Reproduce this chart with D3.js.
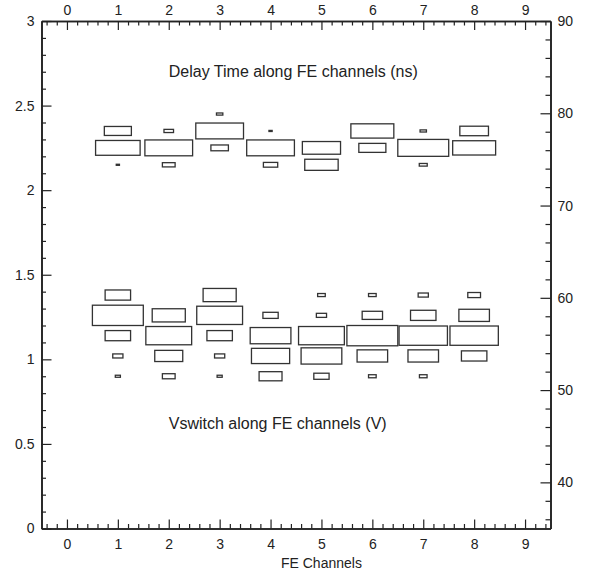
<!DOCTYPE html>
<html>
<head>
<meta charset="utf-8">
<script src="https://cdn.jsdelivr.net/npm/d3@7"></script>
<style>
  body { margin: 0; background: #fff; }
  text { font-family: "Liberation Sans", Arial, sans-serif; fill: #222; }
</style>
</head>
<body>
<div id="chart"></div>
<script>
// FE channels on x
const channels = [1, 2, 3, 4, 5, 6, 7, 8];

// Delay time histogram: bin centres (left axis units, bin width 0.1)
const delayBins = [2.15, 2.25, 2.35, 2.45];
const delayBinWidth = 0.1;
// entries per channel, one row per channel, in the order of delayBins
const delayCounts = [
  [2, 28, 17, 0],
  [8, 30, 6, 0],
  [0, 11, 30, 4],
  [9, 30, 2, 0],
  [21, 24, 0, 0],
  [0, 17, 27, 0],
  [5, 32, 4, 0],
  [0, 27, 18, 0]
];

// Vswitch histogram: bin centres (V, bin width 0.12)
const vswBins = [0.90, 1.02, 1.14, 1.26, 1.38];
const vswBinWidth = 0.12;
const vswCounts = [
  [2, 4, 10, 20, 10],
  [5, 11, 18, 13, 0],
  [2, 4, 10, 18, 13],
  [9, 15, 16, 6, 0],
  [6, 16, 18, 4, 3],
  [3, 12, 20, 8, 3],
  [3, 12, 19, 10, 4],
  [0, 10, 19, 12, 5]
];

const xTicks = [0, 1, 2, 3, 4, 5, 6, 7, 8, 9];
const yLeftTicks = [0, 0.5, 1, 1.5, 2, 2.5, 3];
const yRightTicks = [40, 50, 60, 70, 80, 90];

const margin = { top: 21, right: 39.5, bottom: 44.5, left: 41.5 },
  width = 590 - margin.left - margin.right,
  height = 573 - margin.top - margin.bottom;

const svg = d3.select("#chart")
  .append("svg")
  .attr("width", 590)
  .attr("height", 573)
  .append("g")
  .attr("transform", `translate(${margin.left},${margin.top})`);

const x = d3.scaleLinear().domain([-0.5, 9.5]).range([0, width]);
const y = d3.scaleLinear().domain([0, 3]).range([height, 0]);
const yR = d3.scaleLinear().domain([35, 90]).range([height, 0]);

// minor tick positions
const xMinor = d3.range(-2, 48).map(i => i * 0.2).filter(v => Math.abs(v - Math.round(v)) > 1e-6);
const yMinor = d3.range(1, 30).map(i => i / 10).filter(v => Math.abs(v * 2 - Math.round(v * 2)) > 1e-6);
const yRMinor = d3.range(36, 90, 2).filter(v => v % 10 !== 0);

function styleAxis(g) {
  g.select(".domain").attr("stroke", "#222").attr("stroke-width", 1.6);
  g.selectAll(".tick line").attr("stroke", "#222").attr("stroke-width", 1.2);
  g.selectAll(".tick text").style("font-size", "14px").attr("fill", "#222");
}

// bottom
svg.append("g").attr("transform", `translate(0,${height})`)
  .call(d3.axisBottom(x).tickValues(xMinor).tickSize(-4.5).tickSizeOuter(0).tickFormat(""))
  .call(styleAxis);
svg.append("g").attr("transform", `translate(0,${height})`)
  .call(d3.axisBottom(x).tickValues(xTicks).tickSize(-9).tickSizeOuter(0).tickPadding(11).tickFormat(d3.format("d")))
  .call(styleAxis);

// top
svg.append("g")
  .call(d3.axisTop(x).tickValues(xMinor).tickSize(-4.5).tickSizeOuter(0).tickFormat(""))
  .call(styleAxis);
svg.append("g")
  .call(d3.axisTop(x).tickValues(xTicks).tickSize(-9).tickSizeOuter(0).tickPadding(6).tickFormat(d3.format("d")))
  .call(styleAxis);

// left
svg.append("g")
  .call(d3.axisLeft(y).tickValues(yMinor).tickSize(-4.5).tickSizeOuter(0).tickFormat(""))
  .call(styleAxis);
svg.append("g")
  .call(d3.axisLeft(y).tickValues(yLeftTicks).tickSize(-10).tickSizeOuter(0).tickPadding(7).tickFormat(d3.format("")))
  .call(styleAxis);

// right (delay time in ns)
svg.append("g").attr("transform", `translate(${width},0)`)
  .call(d3.axisRight(yR).tickValues(yRMinor).tickSize(-5).tickSizeOuter(0).tickFormat(""))
  .call(styleAxis);
svg.append("g").attr("transform", `translate(${width},0)`)
  .call(d3.axisRight(yR).tickValues(yRightTicks).tickSize(-10).tickSizeOuter(0).tickPadding(7).tickFormat(d3.format("d")))
  .call(styleAxis);

// box histograms
const drawBoxes = function (counts, bins, binWidth) {
  const zmax = d3.max(counts, row => d3.max(row));
  const cells = [];
  counts.forEach((row, i) => {
    row.forEach((c, j) => {
      if (c > 0) cells.push({ ch: channels[i], yc: bins[j], r: c / zmax });
    });
  });
  svg.append("g")
    .selectAll("rect")
    .data(cells)
    .join("rect")
    .attr("x", d => x(d.ch) - (x(d.ch + 0.5) - x(d.ch - 0.5)) * d.r / 2)
    .attr("y", d => y(d.yc) - (y(d.yc - binWidth / 2) - y(d.yc + binWidth / 2)) * d.r / 2)
    .attr("width", d => (x(d.ch + 0.5) - x(d.ch - 0.5)) * d.r)
    .attr("height", d => (y(d.yc - binWidth / 2) - y(d.yc + binWidth / 2)) * d.r)
    .attr("fill", "none")
    .attr("stroke", "#333")
    .attr("stroke-width", 1.3);
}

drawBoxes(delayCounts, delayBins, delayBinWidth);
drawBoxes(vswCounts, vswBins, vswBinWidth);

// labels
svg.append("text")
  .attr("x", x(2))
  .attr("y", y(2.7))
  .attr("dy", "0.35em")
  .style("font-size", "16px")
  .text("Delay Time along FE channels (ns)");

svg.append("text")
  .attr("x", x(2))
  .attr("y", y(0.62))
  .attr("dy", "0.35em")
  .style("font-size", "16px")
  .text("Vswitch along FE channels (V)");

svg.append("text")
  .attr("x", x(5))
  .attr("y", height + 39)
  .attr("text-anchor", "middle")
  .style("font-size", "14px")
  .text("FE Channels");
</script>
</body>
</html>
